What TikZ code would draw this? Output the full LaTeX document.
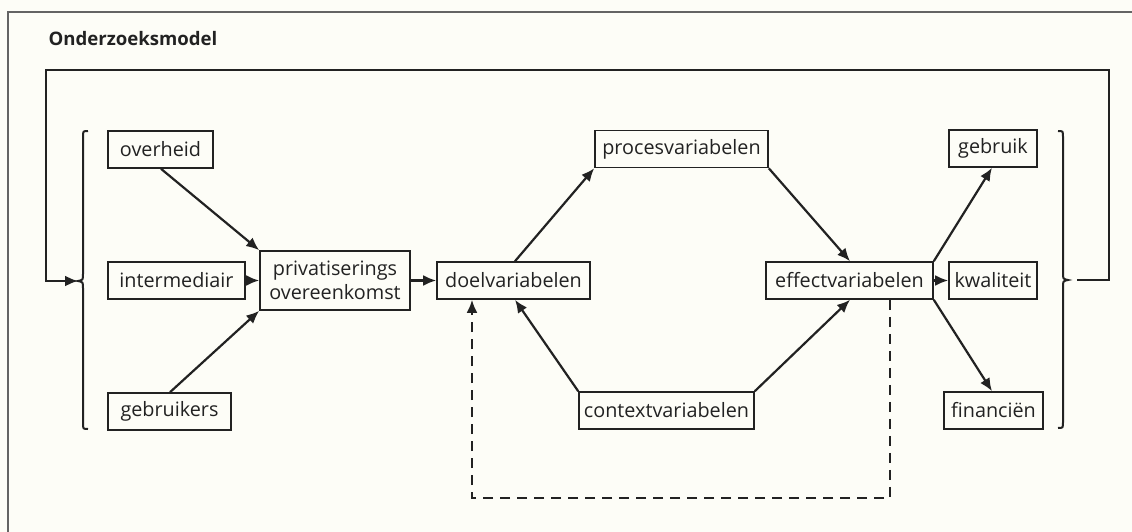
\documentclass[tikz,border=0pt]{standalone}
\usepackage{fontspec}
\setmainfont{Open Sans}
\usetikzlibrary{arrows.meta}
\definecolor{ink}{HTML}{222222}
\definecolor{paper}{HTML}{FDFDF7}
\begin{document}
\begin{tikzpicture}[x=1pt,y=-1pt,
  every node/.style={font=\fontsize{19.8}{23}\selectfont, text=ink},
  box/.style={draw=ink, line width=1.6pt, inner sep=0pt, minimum height=37pt, align=center},
  conn/.style={draw=ink, line width=2.2pt, -{Latex[length=13pt,width=11pt]}},
  plain/.style={draw=ink, line width=2.2pt},
  dashline/.style={draw=ink, line width=2.2pt, dash pattern=on 10pt off 7pt}]
\useasboundingbox (0,0) rectangle (1132,532);
\fill[paper] (0,0) rectangle (1132,532);
% outer frame
\draw[draw=ink!70, line width=1.2pt] (8,532) -- (8,12) -- (1132,12);
\node[anchor=west, font=\fontsize{18.6}{22}\selectfont\bfseries] (title) at (45,39) {Onderzoeksmodel};
% nodes
\node[box, minimum width=105pt] (overheid) at (160.5,149.5) {overheid};
\node[box, minimum width=137pt] (inter) at (176.5,280.5) {intermediair};
\node[box, minimum width=123pt] (gebruikers) at (169.5,411.5) {gebruikers};
\node[box, minimum width=150pt, minimum height=59pt, font=\fontsize{19.8}{24}\selectfont] (priv) at (335,280.5) {privatiserings\\overeenkomst};
\node[box, minimum width=153pt] (doel) at (513.5,280.5) {doelvariabelen};
\node[box, minimum width=173pt] (proces) at (681.5,149) {procesvariabelen};
\node[box, minimum width=167pt] (effect) at (849.5,280.5) {effectvariabelen};
\node[box, minimum width=175pt] (context) at (666.5,410.5) {contextvariabelen};
\node[box, minimum width=88pt] (gebruik) at (993,148.5) {gebruik};
\node[box, minimum width=88pt] (kwal) at (993,280.5) {kwaliteit};
\node[box, minimum width=99pt] (fin) at (993.5,410.5) {financiën};
% coordinates
\coordinate (ox) at (161,0);
\coordinate (gx) at (170,0);
\coordinate (dx) at (515,0);
\coordinate (ex) at (850,0);
\coordinate (fx) at (992,0);
\coordinate (dl) at (472,0);
\coordinate (dr) at (890,0);
\coordinate (dbot) at (0,498);
% left group arrows
\draw[conn] (ox |- overheid.south) -- (priv.north west);
\draw[conn] (inter.east) -- (priv.west);
\draw[conn] (gx |- gebruikers.north) -- (priv.south west);
\draw[conn] (priv.east) -- (doel.west);
% hexagon
\draw[conn] (dx |- doel.north) -- (proces.south west);
\draw[conn] (proces.south east) -- (ex |- effect.north);
\draw[conn] (context.north west) -- (dx |- doel.south);
\draw[conn] (context.north east) -- (ex |- effect.south);
% right group
\draw[conn] (effect.north east) -- (fx |- gebruik.south);
\draw[conn] (effect.east) -- (kwal.west);
\draw[conn] (effect.south east) -- (fx |- fin.north);
% dashed feedback
\draw[dashline, -{Latex[length=13pt,width=11pt]}] (dr |- effect.south) -- (dr |- dbot) -- (dl |- dbot) -- (dl |- doel.south);
% braces
\coordinate (lbtip) at (78,281);
\coordinate (rbtip) at (1068,280);
\draw[plain, line width=2pt] (88,131) .. controls (83,131) .. (83,137) -- (83,274) .. controls (83,280) .. (lbtip) .. controls (83,282) .. (83,288) -- (83,423) .. controls (83,429) .. (88,429);
\draw[plain, line width=2pt] (1058,131) .. controls (1063,131) .. (1063,137) -- (1063,273) .. controls (1063,279) .. (rbtip) .. controls (1063,281) .. (1063,287) -- (1063,422) .. controls (1063,428) .. (1058,428);
% big feedback loop
\coordinate (fb1) at (1077,280);
\coordinate (fb2) at (1109,280);
\coordinate (fb3) at (1109,70);
\coordinate (fb4) at (46,70);
\coordinate (fb5) at (46,281);
\draw[plain, -{Latex[length=13pt,width=11pt]}] (fb1) -- (fb2) -- (fb3) -- (fb4) -- (fb5) -- (lbtip);
\end{tikzpicture}
\end{document}
